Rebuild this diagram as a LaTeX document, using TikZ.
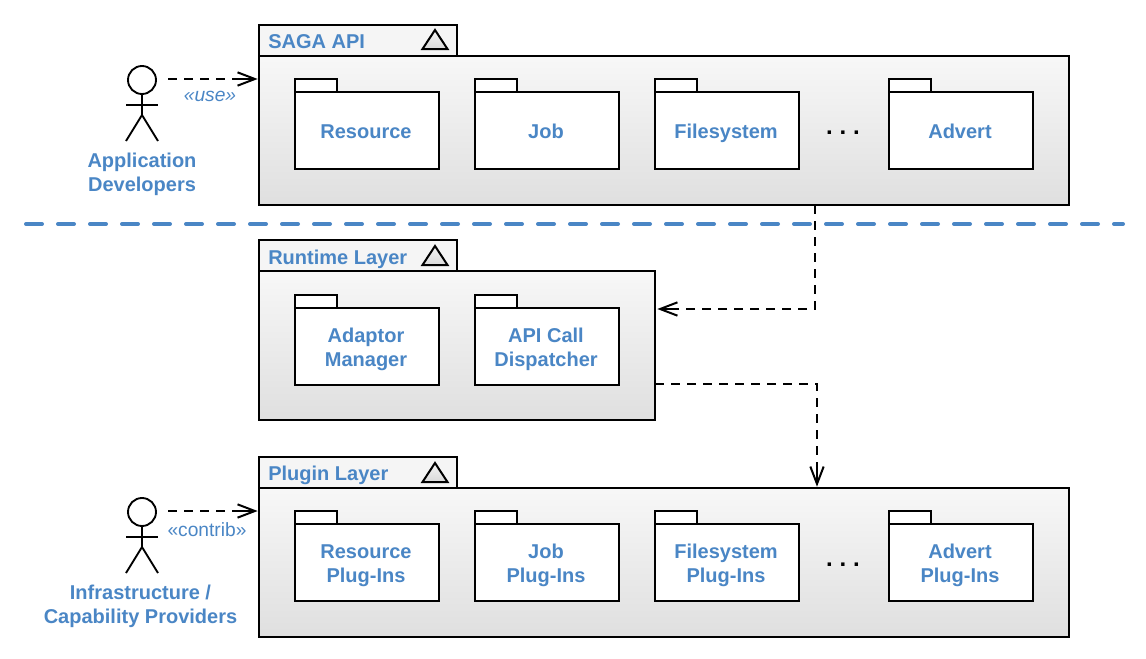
\documentclass[tikz,border=0pt]{standalone}
\usepackage{fontspec}
\setmainfont{Liberation Sans}
\usetikzlibrary{arrows.meta,calc}
\definecolor{lab}{HTML}{4A86C5}
\tikzset{
  x=0.75pt,y=-0.75pt,
  frame/.style={draw=black,line width=1.5pt,rectangle,inner sep=0pt,outer sep=0pt,top color=gray!6,bottom color=gray!25,minimum width=#1,minimum height=111.75pt,anchor=north west},
  frame/.default=607.5pt,
  tabbox/.style={draw=black,line width=1.5pt,rectangle,inner sep=0pt,outer sep=0pt,fill=gray!8,minimum width=148.5pt,minimum height=23.25pt,anchor=north west},
  tabtitle/.style={text=lab,font=\fontsize{15}{18}\selectfont\bfseries,anchor=base west,inner sep=0pt},
  pkgtab/.style={draw=black,line width=1.5pt,fill=white,rectangle,inner sep=0pt,outer sep=0pt,minimum width=31.5pt,minimum height=9.75pt,anchor=north west},
  pkgbody/.style={draw=black,line width=1.5pt,fill=white,rectangle,inner sep=0pt,outer sep=0pt,minimum width=108pt,minimum height=57.75pt,anchor=north west,text=lab,font=\fontsize{15}{18}\selectfont\bfseries,align=center},
  tri/.style={draw=black,line width=1.5pt,line join=miter,top color=gray!8,bottom color=gray!30},
  person/.style={draw=black,line width=1.4pt},
  actorlabel/.style={text=lab,font=\fontsize{15}{18}\selectfont\bfseries,align=center,inner sep=0pt},
  stereo/.style={text=lab,font=\fontsize{14.4}{18}\selectfont,inner sep=0pt},
  dep/.style={draw=black,line width=1.5pt,dash pattern=on 7pt off 5pt},
  deptip/.style={draw=black,solid,line width=1.5pt,-{Straight Barb[length=13pt,width=10pt,line width=1.5pt]},shorten >=1pt},
  dots/.style={text=black,font=\fontsize{18}{18}\selectfont\bfseries,inner sep=0pt,anchor=base},
  sep/.style={draw=lab,line width=3pt,line cap=round,dash pattern=on 12pt off 12pt}
}
\newcommand{\pl}[1]{\rule[-2.85pt]{0pt}{18pt}\smash{#1}\hspace*{1.5pt}}
\newcommand{\actor}[3]{% name,x,y(head centre)
  \node[circle,draw=black,line width=1.4pt,minimum size=21pt,inner sep=0pt,outer sep=0pt] (#1) at (#2,#3) {};
  \coordinate (#1hip) at (#2,#3+35);
  \draw[person] (#1.south) -- (#1hip);
  \draw[person] (#2-16,#3+25) -- (#2+16,#3+25);
  \draw[person] (#2-16,#3+61) -- (#1hip) -- (#2+16,#3+61);
}
\begin{document}
\begin{tikzpicture}
\useasboundingbox (0,0) rectangle (1146,658);

% frames
\node[frame] (saga) at (259,56) {};
\node[tabbox] (sagatab) at (259,25) {};
\node[tabtitle] at (268,48.5) {SAGA API};
\draw[tri] (422.5,49) -- (435,30) -- (447.5,49) -- cycle;

\node[frame=297pt] (run) at (259,271) {};
\node[tabbox] (runtab) at (259,240) {};
\node[tabtitle] at (268,264) {Runtime Layer};
\draw[tri] (422.5,265) -- (435,246) -- (447.5,265) -- cycle;

\node[frame] (plug) at (259,488) {};
\node[tabbox] (plugtab) at (259,457) {};
\node[tabtitle] at (268,480) {Plugin Layer};
\draw[tri] (422.5,482) -- (435,463) -- (447.5,482) -- cycle;

% packages
\node[pkgtab] (a1t) at (295,79) {}; \node[pkgbody] (a1) at (295,92) {\pl{Resource}};
\node[pkgtab] (a2t) at (475,79) {}; \node[pkgbody] (a2) at (475,92) {\pl{Job}};
\node[pkgtab] (a3t) at (655,79) {}; \node[pkgbody] (a3) at (655,92) {\pl{Filesystem}};
\node[pkgtab] (a4t) at (889,79) {}; \node[pkgbody] (a4) at (889,92) {\pl{Advert}};

\node[pkgtab] (b1t) at (295,295) {}; \node[pkgbody] (b1) at (295,308) {\pl{Adaptor}\\\pl{Manager}};
\node[pkgtab] (b2t) at (475,295) {}; \node[pkgbody] (b2) at (475,308) {\pl{API Call}\\\pl{Dispatcher}};

\node[pkgtab] (c1t) at (295,511) {}; \node[pkgbody] (c1) at (295,524) {\pl{Resource}\\\pl{Plug-Ins}};
\node[pkgtab] (c2t) at (475,511) {}; \node[pkgbody] (c2) at (475,524) {\pl{Job}\\\pl{Plug-Ins}};
\node[pkgtab] (c3t) at (655,511) {}; \node[pkgbody] (c3) at (655,524) {\pl{Filesystem}\\\pl{Plug-Ins}};
\node[pkgtab] (c4t) at (889,511) {}; \node[pkgbody] (c4) at (889,524) {\pl{Advert}\\\pl{Plug-Ins}};

\node[dots] (d1) at (843,134.5) {.\kern5.1pt.\kern5.1pt.};
\node[dots] (d2) at (843,566.5) {.\kern5.1pt.\kern5.1pt.};

% separator
\draw[sep] (26,224) -- (1123,224);

% actors
\actor{u1}{142}{80}
\actor{u2}{142}{512}
\node[actorlabel] (u1l) at (142,174) {Application\\Developers};
\node[actorlabel] (u2l) at (140.5,606) {Infrastructure /\\Capability Providers};

% connectors
\coordinate (s1) at (168,79);
\coordinate (s2) at (168,511);
\draw[dep] (s1) -- ($(saga.west |- s1)+(-16,0)$);
\draw[deptip] ($(saga.west |- s1)+(-20,0)$) -- (saga.west |- s1);
\draw[dep] (s2) -- ($(plug.west |- s2)+(-16,0)$);
\draw[deptip] ($(plug.west |- s2)+(-20,0)$) -- (plug.west |- s2);
\node[stereo] (st1) at (210,96) {\itshape «use»};
\node[stereo] (st2) at (207,530) {«contrib»};

\coordinate (e1) at (815,205);
\coordinate (e2) at (815,309);
\draw[dep] (saga.south -| e1) -- (e2) -- ($(run.east |- e2)+(16,0)$);
\draw[deptip] ($(run.east |- e2)+(20,0)$) -- ($(run.east |- e2)+(1,0)$);
\coordinate (f1) at (817,384);
\draw[dep] (run.east |- f1) -- (f1) -- ($(f1 |- plug.north)+(0,-16)$);
\draw[deptip] ($(f1 |- plug.north)+(0,-20)$) -- (f1 |- plug.north);
\end{tikzpicture}
\end{document}
